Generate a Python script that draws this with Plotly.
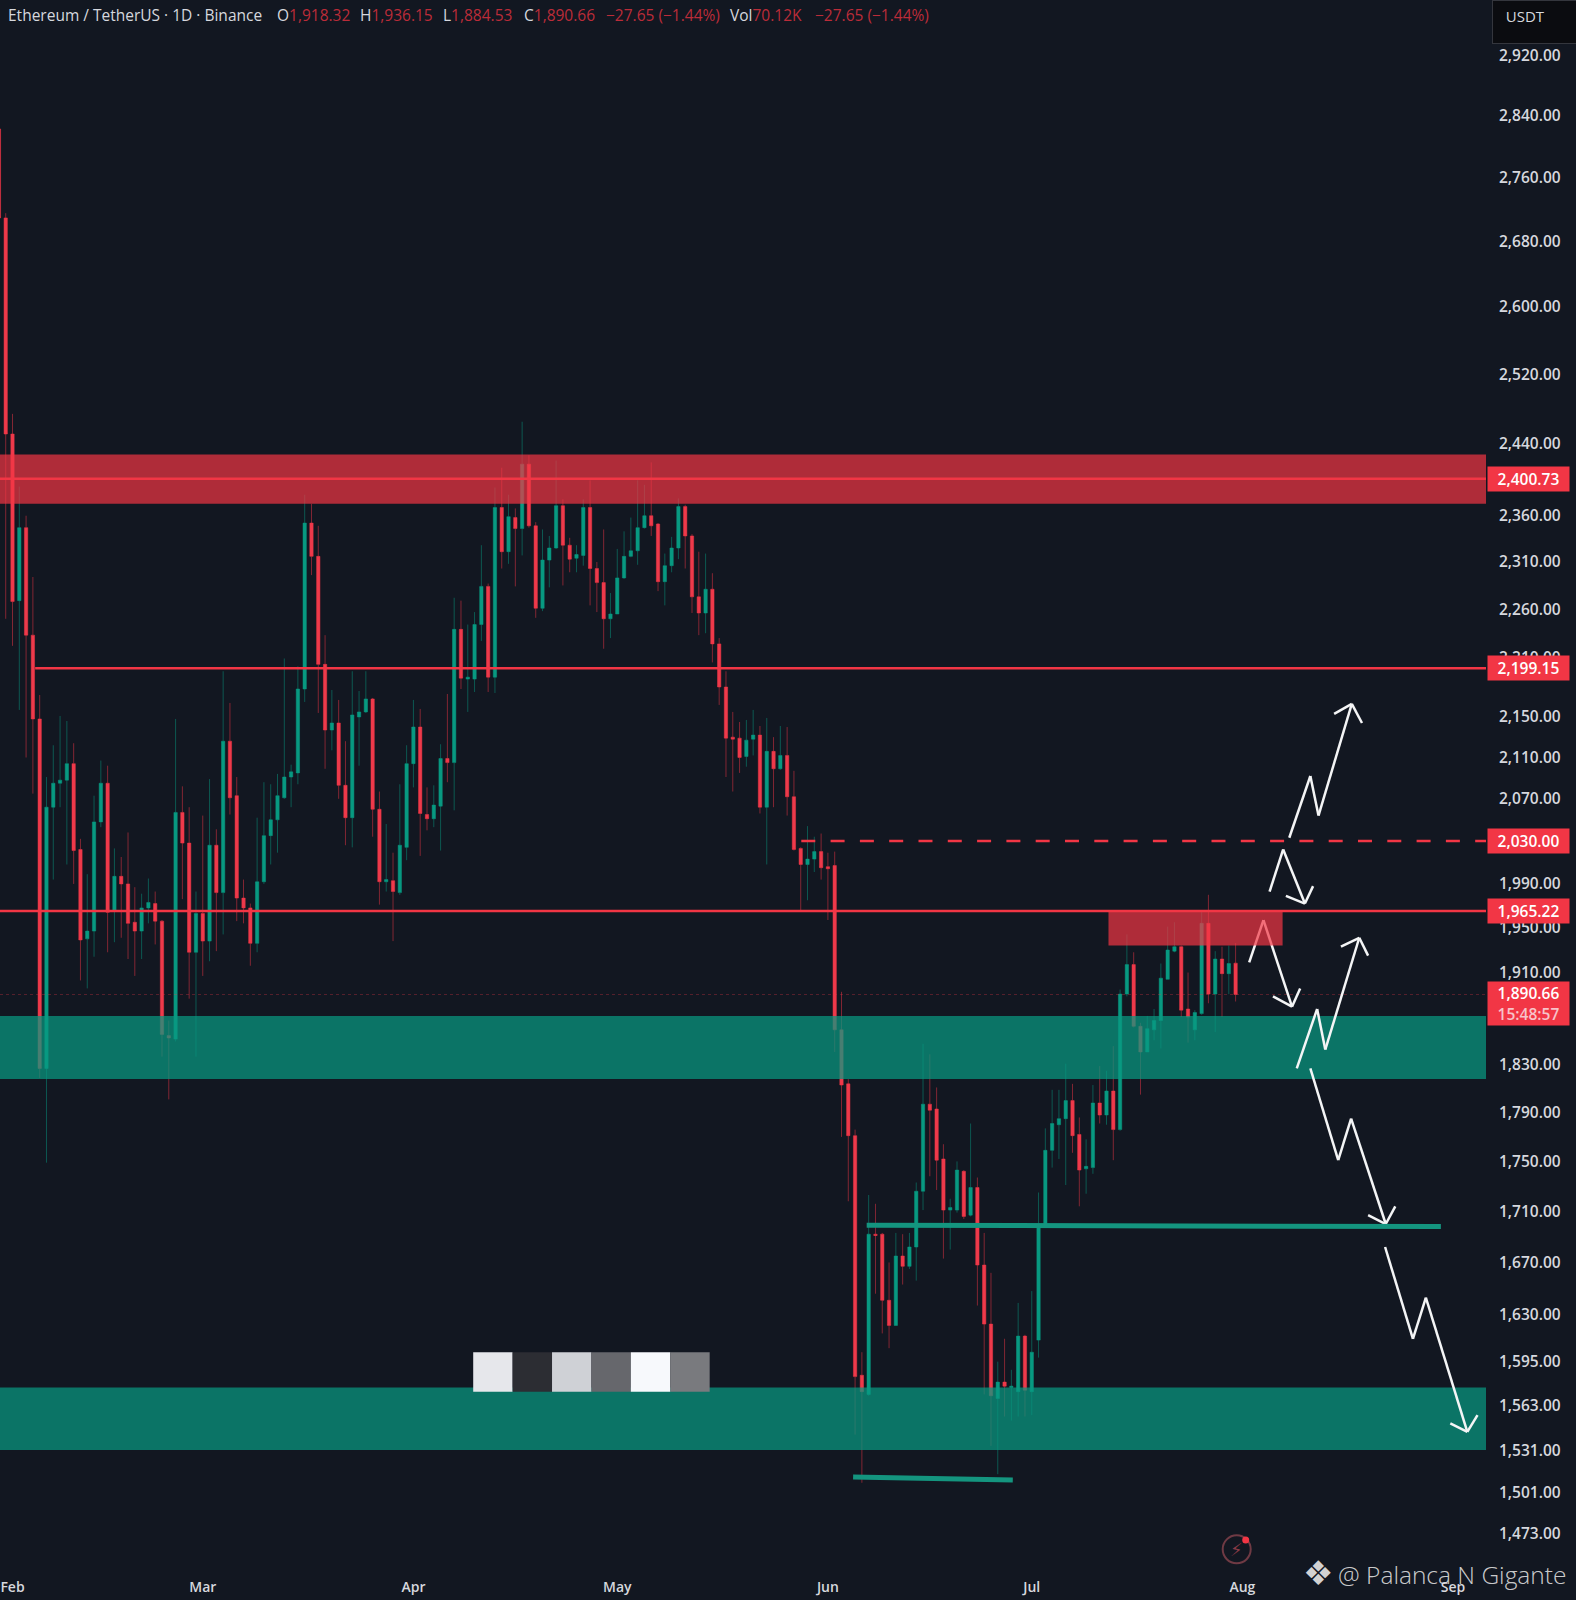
import math
import pandas as pd
import plotly.graph_objects as go

FIRST_DAY = "2023-01-30"
opens = [2823,2709,2451,2269,2347,2233,2148,1827,2062,2085,2088,2104,2022,1940,1947,2048,2085,1965,1997,1990,1955,1947,1968,1972,1956,1855,1852,2057,2028,1928,
         1963,1938,2026,1982,2126,2073,1977,1968,1936,1992,2035,2050,2071,2091,2095,2178,2352,2316,2203,2137,2144,2083,2052,2150,2155,2168,2060,1992,1993,1982,2024,
         2104,2140,2055,2051,2063,2109,2105,2239,2188,2188,2244,2284,2190,2369,2321,2358,2346,2417,2349,2261,2312,2325,2371,2328,2314,2317,2369,2303,2288,2250,
         2255,2293,2316,2322,2347,2360,2351,2289,2306,2325,2370,2338,2273,2256,2281,2224,2180,2130,2129,2111,2128,2132,2062,2116,2099,2112,2072,2023,2008,2013,2020,
         2006,2007,1860,1814,1771,1585,1571,1692,1692,1641,1622,1675,1667,1682,1726,1797,1793,1752,1711,1711,1742,1707,1729,1668,1623,1568,1580,1576,1573,1614,
         1573,1611,1700,1759,1780,1785,1800,1772,1744,1745,1798,1788,1808,1776,1891,1917,1863,1841,1860,1868,1904,1929,1933,1878,1860,1874,1954,1891,1922,1909,1918.32]
highs = [2830,2715,2474,2392,2360,2294,2172,2091,2122,2151,2146,2124,2032,1999,2073,2107,2102,2023,2015,2038,1987,1981,1995,1983,1957,1868,2148,2082,2062,1983,
         2054,2089,2041,2196,2164,2091,1994,1972,2052,2086,2084,2094,2209,2103,2201,2383,2373,2349,2233,2177,2167,2126,2196,2176,2196,2169,2077,2046,2019,2084,2122,
         2167,2158,2081,2083,2123,2173,2272,2269,2244,2257,2328,2287,2391,2413,2383,2368,2465,2427,2353,2345,2338,2421,2378,2336,2328,2378,2399,2310,2345,2277,
         2324,2343,2358,2399,2394,2419,2352,2319,2337,2379,2372,2340,2321,2319,2298,2230,2196,2155,2145,2147,2157,2141,2149,2130,2141,2140,2097,2024,2044,2034,2037,
         2019,2020,1893,1818,1776,1602,1723,1716,1693,1670,1693,1692,1693,1733,1848,1839,1811,1764,1720,1750,1743,1781,1737,1693,1662,1595,1612,1589,1639,1615,
         1648,1725,1777,1809,1809,1831,1814,1786,1768,1813,1829,1825,1846,1895,1944,1928,1866,1872,1878,1918,1951,1955,1934,1910,1877,1966,1980,1929,1933,1934,1936.15]
lows = [2700,2250,2222,2157,2110,2075,1819,1749,1994,2062,2008,1990,1903,1896,1924,2043,1928,1937,1941,1922,1907,1922,1954,1935,1837,1801,1850,1976,1887,1837,
        1907,1920,1929,1944,2055,1956,1954,1916,1928,1990,2008,2019,2070,2062,2084,2165,2296,2154,2099,2117,2070,2026,2024,2102,2154,2034,1971,1983,1938,1980,2012,
        2081,2016,2040,2043,2021,2086,2059,2178,2155,2175,2227,2175,2174,2303,2308,2284,2317,2347,2251,2258,2283,2324,2285,2299,2299,2306,2264,2257,2219,2230,
        2255,2292,2315,2307,2346,2338,2279,2264,2299,2313,2303,2256,2233,2235,2205,2162,2091,2077,2095,2101,2112,2056,2008,2062,2098,2054,2021,1966,1975,2001,1994,
        1957,1841,1770,1718,1542,1508,1570,1646,1616,1605,1622,1653,1665,1656,1711,1738,1727,1673,1680,1709,1704,1706,1637,1571,1534,1514,1555,1552,1555,1555,
        1556,1598,1699,1745,1752,1731,1757,1714,1724,1740,1781,1780,1751,1775,1889,1862,1805,1841,1851,1844,1904,1928,1871,1849,1851,1873,1883,1858,1871,1891,1884.53]
closes = [2709,2451,2268,2347,2233,2148,1827,2062,2085,2088,2104,2021,1939,1947,2048,2085,1964,1997,1990,1954,1947,1968,1973,1956,1856,1853,2057,2028,1928,1963,
          1938,2026,1982,2126,2071,1977,1968,1936,1992,2035,2050,2073,2091,2096,2178,2352,2316,2203,2137,2144,2083,2052,2152,2155,2168,2060,1992,1994,1983,2026,2104,
          2140,2056,2051,2064,2109,2105,2239,2189,2190,2244,2284,2190,2369,2321,2359,2346,2417,2349,2261,2312,2325,2371,2328,2313,2318,2369,2303,2288,2250,2255,
          2293,2316,2322,2347,2360,2349,2289,2306,2325,2370,2338,2273,2256,2281,2224,2180,2129,2128,2110,2127,2132,2062,2116,2099,2112,2072,2022,2008,2013,2020,2005,
          2004,1860,1813,1771,1584,1573,1692,1691,1641,1622,1675,1667,1682,1726,1797,1792,1751,1711,1713,1743,1706,1729,1668,1623,1570,1580,1577,1577,1614,1574,
          1602,1699,1759,1781,1785,1800,1771,1743,1746,1798,1788,1808,1776,1891,1917,1863,1841,1861,1868,1905,1930,1933,1877,1871,1875,1954,1891,1922,1909,1918,1890.66]

dates = pd.date_range(FIRST_DAY, periods=len(opens), freq="D")

price_ticks = [2920,2840,2760,2680,2600,2520,2440,2360,2310,2260,2210,2150,2110,2070,1990,1950,1910,
               1830,1790,1750,1710,1670,1630,1595,1563,1531,1501,1473]
month_ticks = ["2023-02-01","2023-03-01","2023-04-01","2023-05-01","2023-06-01","2023-07-01","2023-08-01","2023-09-01"]
month_labels = ["Feb","Mar","Apr","May","Jun","Jul","Aug","Sep"]

resistance_zone = [2373, 2428]
support_zones = [[1818, 1872], [1531, 1576]]
small_zone = [1934, 1965, "2023-07-12 07:00", "2023-08-06 22:00"]
level_main = 2400.73
level_mid = 2199.15
level_dash = 2030.00
level_low = 1965.22
level_last = 1890.66
green_line = [1699, 1698, "2023-06-06 17:00", "2023-08-30 05:00"]
green_floor = [1512, 1510, "2023-06-04 17:00", "2023-06-28 05:00"]

# Hand-drawn arrows: days after 1 Feb, and price
arrows = [
    ([187.9,191.0,192.2,197.1], [2033,2092,2054,2163]),
    ([194.5,197.1,198.6], [2153,2163,2144]),
    ([185.0,187.0,190.2], [1983,2022,1972]),
    ([187.4,190.2,191.4], [1979,1972,1988]),
    ([182.0,184.1,188.3], [1919,1957,1880]),
    ([185.5,188.3,189.5], [1889,1880,1896]),
    ([189.0,192.0,193.2,198.2], [1827,1878,1843,1941]),
    ([195.5,198.2,199.5], [1933,1941,1925]),
    ([191.0,195.1,197.0,202.1], [1827,1751,1785,1700]),
    ([199.5,202.1,203.5], [1707,1700,1714]),
    ([202.0,206.1,208.0,214.1], [1682,1612,1643,1544]),
    ([211.6,214.1,215.6], [1550,1544,1556]),
]
square_days = [67.8, 73.6, 79.4, 85.2, 91.0, 96.8, 102.6]
square_prices = [1573, 1602]
square_colors = ["#e6e7eb", "#2c2d33", "#cfd1d6", "#66676c", "#f7f9fc", "#797a7e"]

BG = "#121721"
RED = "#f23645"
GREEN = "#089981"
TEXT = "#d6d8de"
FONT = "Open Sans"
W, H, PLOT_W, PLOT_H = 1576, 1600, 1486, 1570
base = pd.Timestamp("2023-02-01")


def day(d):
    return (base + pd.Timedelta(days=d)).strftime("%Y-%m-%d %H:%M")


fig = go.Figure(go.Candlestick(
    x=dates, open=opens, high=highs, low=lows, close=closes,
    increasing=dict(fillcolor=GREEN, line=dict(color="rgba(8,153,129,0.5)", width=1)),
    decreasing=dict(fillcolor="#ee3a4b", line=dict(color="rgba(242,54,69,0.5)", width=1)),
    hoverinfo="skip", showlegend=False,
))

shapes = []
for lo, hi in support_zones:
    shapes.append(dict(type="rect", xref="paper", yref="y", x0=0, x1=1, y0=lo, y1=hi,
                       fillcolor="rgba(8,153,129,0.72)", line_width=0))
for i, c in enumerate(square_colors):
    shapes.append(dict(type="rect", xref="x", yref="y", x0=day(square_days[i]), x1=day(square_days[i + 1]),
                       y0=square_prices[0], y1=square_prices[1], fillcolor=c, line_width=0))
shapes.append(dict(type="line", xref="paper", yref="y", x0=0, x1=1, y0=level_last, y1=level_last,
                   line=dict(color="rgba(242,54,69,0.3)", width=1, dash="dot")))
for xs, ys in arrows:
    for k in range(len(xs) - 1):
        shapes.append(dict(type="line", xref="x", yref="y", x0=day(xs[k]), x1=day(xs[k + 1]),
                           y0=ys[k], y1=ys[k + 1], line=dict(color="#f4f5f6", width=2.5)))
shapes.append(dict(type="rect", xref="paper", yref="y", x0=0, x1=1, y0=resistance_zone[0], y1=resistance_zone[1],
                   fillcolor="rgba(242,54,69,0.70)", line_width=0))
shapes.append(dict(type="rect", xref="x", yref="y", x0=small_zone[2], x1=small_zone[3], y0=small_zone[0], y1=small_zone[1],
                   fillcolor="rgba(242,54,69,0.70)", line_width=0))
shapes.append(dict(type="line", xref="paper", yref="y", x0=0, x1=1, y0=level_main, y1=level_main,
                   line=dict(color=RED, width=2.5)))
shapes.append(dict(type="line", xref="x", yref="y", x0="2023-02-04 08:00", x1="2023-09-05 20:24", y0=level_mid, y1=level_mid,
                   line=dict(color=RED, width=2.5)))
shapes.append(dict(type="line", xref="paper", yref="y", x0=0, x1=1, y0=level_low, y1=level_low,
                   line=dict(color=RED, width=2.5)))
shapes.append(dict(type="line", xref="x", yref="y", x0="2023-05-28 02:00", x1="2023-09-05 20:24", y0=level_dash, y1=level_dash,
                   line=dict(color=RED, width=2.5, dash="14px,15.3px")))
shapes.append(dict(type="line", xref="x", yref="y", x0=green_line[2], x1=green_line[3], y0=green_line[0], y1=green_line[1],
                   line=dict(color="#14957f", width=5)))
shapes.append(dict(type="line", xref="x", yref="y", x0=green_floor[2], x1=green_floor[3], y0=green_floor[0], y1=green_floor[1],
                   line=dict(color="#14957f", width=5)))
# Alert icon
shapes.append(dict(type="circle", xref="paper", yref="paper", xsizemode="pixel", ysizemode="pixel",
                   xanchor=1236.7 / PLOT_W, yanchor=1 - 1549.3 / PLOT_H, x0=-14, x1=14, y0=-14, y1=14,
                   line=dict(color="#6f3a44", width=2), fillcolor="rgba(0,0,0,0)"))
shapes.append(dict(type="circle", xref="paper", yref="paper", xsizemode="pixel", ysizemode="pixel",
                   xanchor=1245.7 / PLOT_W, yanchor=1 - 1540 / PLOT_H, x0=-3.5, x1=3.5, y0=-3.5, y1=3.5,
                   line_width=0, fillcolor=RED))

ann = []


def label(text, x, py, size=15.5, color=TEXT, anchor="left", weight=500, family=FONT):
    ann.append(dict(text=text, xref="paper", yref="paper", x=x / PLOT_W, y=1 - py / PLOT_H, xanchor=anchor,
                    yanchor="middle", showarrow=False, font=dict(family=family, size=size, color=color, weight=weight)))


VAL = "#bb2c39"


def ohlc(letter, value):
    return f'{letter}<span style="color:{VAL}">{value}</span>'


label("Ethereum / TetherUS · 1D · Binance", 6, 15)
label(ohlc("O", "1,918.32"), 275, 15)
label(ohlc("H", "1,936.15"), 358, 15)
label(ohlc("L", "1,884.53"), 441, 15)
label(ohlc("C", "1,890.66"), 522, 15)
label("−27.65 (−1.44%)", 604, 15, color=VAL)
label(ohlc("Vol", "70.12K"), 728, 15)
label("−27.65 (−1.44%)", 813, 15, color=VAL)

for level, txt in [(level_main, "2,400.73"), (level_mid, "2,199.15"), (level_dash, "2,030.00"), (level_low, "1,965.22")]:
    ann.append(dict(text=txt, xref="paper", yref="y", x=1.0004, y=math.log10(level), xanchor="left", yanchor="middle",
                    showarrow=False, width=81, height=24, bgcolor=RED, borderpad=0,
                    font=dict(family=FONT, size=15.5, color="#ffffff", weight=600)))
ann.append(dict(text='1,890.66<br><span style="color:#f7c3c9">15:48:57</span>', xref="paper", yref="y", x=1.0004,
                y=math.log10(level_last), yshift=-9, xanchor="left", yanchor="middle", showarrow=False, width=81, height=43,
                bgcolor=RED, borderpad=0, font=dict(family=FONT, size=15.5, color="#ffffff", weight=600)))
ann.append(dict(text="\u00a0\u00a0USDT", xref="paper", yref="paper", x=1491.7 / PLOT_W, y=1, xanchor="left", yanchor="top",
                showarrow=False, width=76, height=32, align="left", valign="top", borderpad=5,
                bgcolor="#0b0c10", bordercolor="#34363d", borderwidth=1,
                font=dict(family=FONT, size=15, color=TEXT)))
label("⚡", 1236.7, 1549.3, size=18, color="#8a3a46", anchor="center", weight=400, family="DejaVu Sans")
label("❖", 1318, 1573, size=34, color="#d2d2d2", anchor="center", weight=400, family="DejaVu Sans")
label("@ Palanca N Gigante", 1336, 1574, size=24.5, color="rgba(226,226,226,0.9)", weight=300)

fig.update_layout(
    width=W, height=H, paper_bgcolor=BG, plot_bgcolor=BG,
    margin=dict(l=0, r=W - PLOT_W, t=0, b=H - PLOT_H),
    shapes=shapes, annotations=ann, showlegend=False,
    xaxis=dict(type="date", range=["2023-01-30 03:50", "2023-09-05 20:24"], rangeslider=dict(visible=False),
               tickmode="array", tickvals=month_ticks, ticktext=month_labels, showgrid=False, zeroline=False,
               showline=False, ticks="", ticklabelstandoff=7, tickfont=dict(family=FONT, size=14, color=TEXT, weight=600)),
    yaxis=dict(type="log", side="right", range=[math.log10(1448.3), math.log10(2996.7)],
               tickmode="array", tickvals=price_ticks, ticktext=[f"{v:,.2f}" for v in price_ticks],
               showgrid=False, zeroline=False, showline=False, ticks="", ticklabelstandoff=12,
               tickfont=dict(family=FONT, size=15.5, color=TEXT, weight=600)),
)
fig.write_html("out.html", config=dict(displayModeBar=False),
               post_script=f"document.body.style.margin='0';document.body.style.background='{BG}';")
